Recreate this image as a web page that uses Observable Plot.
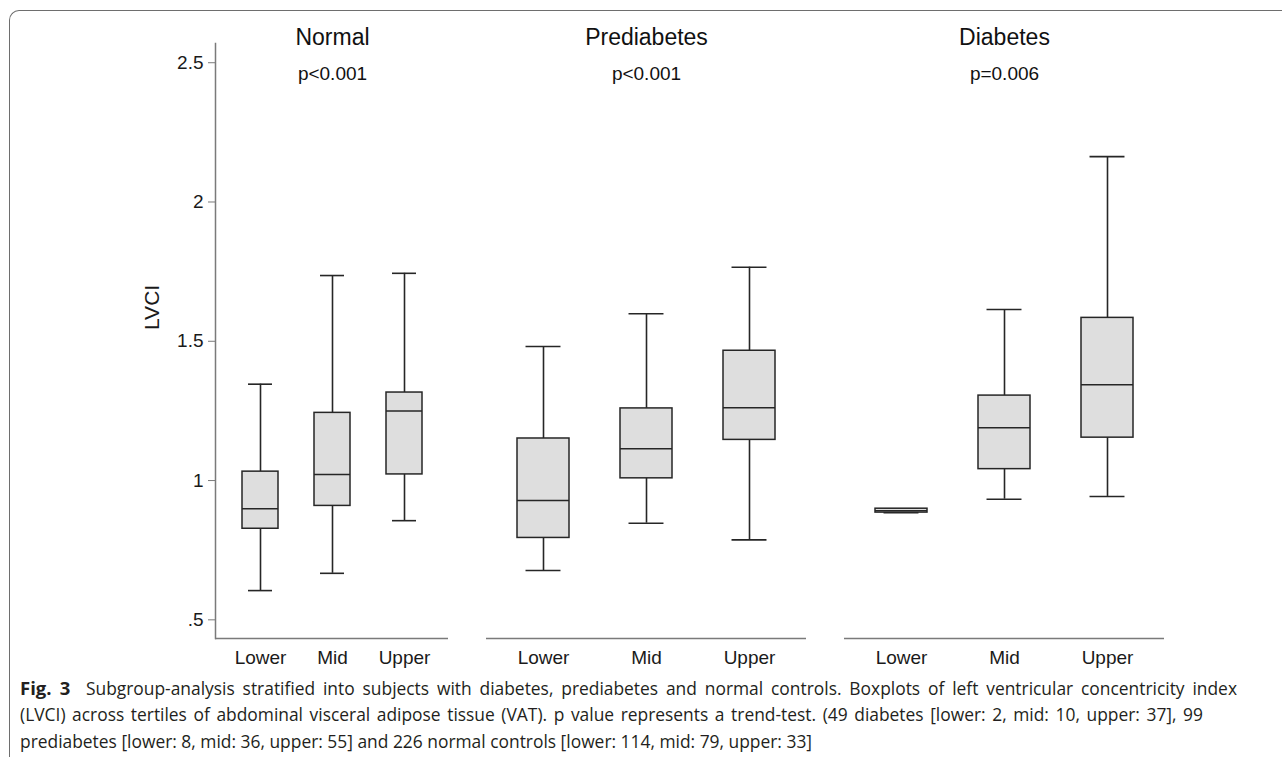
<!DOCTYPE html>
<html>
<head>
<meta charset="utf-8">
<script src="https://cdn.jsdelivr.net/npm/d3@7"></script>
<script src="https://cdn.jsdelivr.net/npm/@observablehq/plot@0.6"></script>
<style>
  html, body { margin: 0; padding: 0; background: #fff; }
  #page { position: relative; width: 1282px; height: 757px; overflow: hidden; }
  #frame { position: absolute; left: 9px; top: 10px; width: 1300px; height: 800px;
           border-top: 1.5px solid #6e6e6e; border-left: 1.5px solid #6e6e6e;
           border-top-left-radius: 10px; box-sizing: border-box; }
  .panel { position: absolute; top: 0; }
  #caption { position: absolute; left: 20px; top: 674px;
             font-family: "Open Sans", "Noto Sans", sans-serif; font-size: 17.4px;
             line-height: 27px; color: #231f20; }
  #caption div { white-space: nowrap; }
  #caption .just { text-align: justify; text-align-last: justify; white-space: normal; overflow: hidden; height: 27px; }
  #caption b { font-weight: 700; font-size: 18.5px; }
</style>
</head>
<body>
<div id="page">
  <div id="frame"></div>
  <div id="p0" class="panel"></div>
  <div id="p1" class="panel"></div>
  <div id="p2" class="panel"></div>
  <div id="caption"></div>
</div>
<script>
// ---- data ----
const groups = ["Normal", "Prediabetes", "Diabetes"];
const pValues = ["p<0.001", "p<0.001", "p=0.006"];
const tertiles = ["Lower", "Mid", "Upper"];
// per group: [Lower, Mid, Upper]
const mins    = [[0.605, 0.667, 0.856], [0.677, 0.847, 0.787], [0.885, 0.933, 0.943]];
const q1s     = [[0.827, 0.909, 1.022], [0.794, 1.008, 1.146], [0.885, 1.041, 1.154]];
const medians = [[0.899, 1.022, 1.250], [0.928, 1.114, 1.261], [0.892, 1.190, 1.344]];
const q3s     = [[1.032, 1.243, 1.316], [1.151, 1.259, 1.466], [0.899, 1.305, 1.584]];
const maxs    = [[1.346, 1.736, 1.744], [1.481, 1.599, 1.766], [0.899, 1.614, 2.163]];
const yTicks = [0.5, 1, 1.5, 2, 2.5];
const yDomain = [0.433, 2.569];
const yLabel = "LVCI";
const captionLines = [
  "<b>Fig. 3</b>&nbsp; Subgroup-analysis stratified into subjects with diabetes, prediabetes and normal controls. Boxplots of left ventricular concentricity index",
  "(LVCI) across tertiles of abdominal visceral adipose tissue (VAT). p value represents a trend-test. (49 diabetes [lower: 2, mid: 10, upper: 37], 99",
  "prediabetes [lower: 8, mid: 36, upper: 55] and 226 normal controls [lower: 114, mid: 79, upper: 33]"
];

// ---- layout ----
const H = 672, MT = 43, MB = 34;
const panels = [
  {left: 0,   width: 467, ml: 215, mr: 19, po: 0.35},
  {left: 467, width: 358, ml: 19,  mr: 19, po: 0.30},
  {left: 825, width: 358, ml: 19,  mr: 19, po: 0.30}
];
const PI = 0.5;
const axisColor = "#7a7a7a", ink = "#262626", boxFill = "#dedede";
const font = "'Liberation Sans', Arial, Helvetica, sans-serif";

groups.forEach((g, gi) => {
  const P = panels[gi];
  const rows = tertiles.map((t, i) => ({
    tertile: t, min: mins[gi][i], q1: q1s[gi][i], median: medians[gi][i],
    q3: q3s[gi][i], max: maxs[gi][i]
  }));
  const fw = P.width - P.ml - P.mr;
  const step = fw / (tertiles.length - PI + 2 * P.po);
  const bw = step * (1 - PI);
  const capInset = bw * 0.165;
  const marks = [];
  if (gi === 0) {
    marks.push(Plot.axisY({ticks: yTicks, tickFormat: d => String(d).replace(/^0\./, "."),
      tickSize: 7, tickPadding: 5, stroke: axisColor, fill: "#1a1a1a", fontSize: 19, label: null}));
    marks.push(Plot.frame({anchor: "left", stroke: axisColor, strokeWidth: 1.5}));
    marks.push(Plot.text([yLabel], {text: d => d, frameAnchor: "left", rotate: -90, dx: -63.5, dy: -11,
      fontSize: 21, fill: "#1a1a1a"}));
  }
  marks.push(
    Plot.axisX({tickSize: 0, tickPadding: 12, fontSize: 19, fill: "#1a1a1a", label: null}),
    Plot.ruleY([yDomain[0]], {stroke: axisColor, strokeWidth: 1.5}),
    Plot.ruleX(rows, {x: "tertile", y1: "q3", y2: "max", stroke: ink, strokeWidth: 1.6}),
    Plot.ruleX(rows, {x: "tertile", y1: "min", y2: "q1", stroke: ink, strokeWidth: 1.6}),
    Plot.tickY(rows, {x: "tertile", y: "max", stroke: ink, strokeWidth: 1.6, insetLeft: capInset, insetRight: capInset}),
    Plot.tickY(rows, {x: "tertile", y: "min", stroke: ink, strokeWidth: 1.6, insetLeft: capInset, insetRight: capInset}),
    Plot.barY(rows, {x: "tertile", y1: "q1", y2: "q3", fill: boxFill, stroke: ink, strokeWidth: 1.5}),
    Plot.tickY(rows, {x: "tertile", y: "median", stroke: ink, strokeWidth: 1.5}),
    Plot.text([g], {x: [tertiles[1]], text: d => d, frameAnchor: "top", lineAnchor: "bottom", dy: 1,
      fontSize: 23, fill: "#111"}),
    Plot.text([pValues[gi]], {x: [tertiles[1]], text: d => d, frameAnchor: "top", lineAnchor: "bottom", dy: 36.5,
      fontSize: 19, fill: "#111"})
  );
  const chart = Plot.plot({
    width: P.width, height: H, marginTop: MT, marginBottom: MB, marginLeft: P.ml, marginRight: P.mr,
    style: {fontFamily: font, fontSize: "19px", background: "transparent", color: "#1a1a1a", overflow: "visible"},
    x: {domain: tertiles, paddingInner: PI, paddingOuter: P.po},
    y: gi === 0 ? {domain: yDomain} : {domain: yDomain, axis: null},
    marks
  });
  const holder = document.getElementById("p" + gi);
  holder.style.left = P.left + "px";
  holder.appendChild(chart);
});

// caption: first two lines justified to the widths seen in the reference
const lineWidths = [1217, 1183, null];
const cap = document.getElementById("caption");
captionLines.forEach((html, i) => {
  const d = document.createElement("div");
  d.innerHTML = html;
  if (lineWidths[i]) { d.className = "just"; d.style.width = lineWidths[i] + "px"; }
  cap.appendChild(d);
});
</script>
</body>
</html>
